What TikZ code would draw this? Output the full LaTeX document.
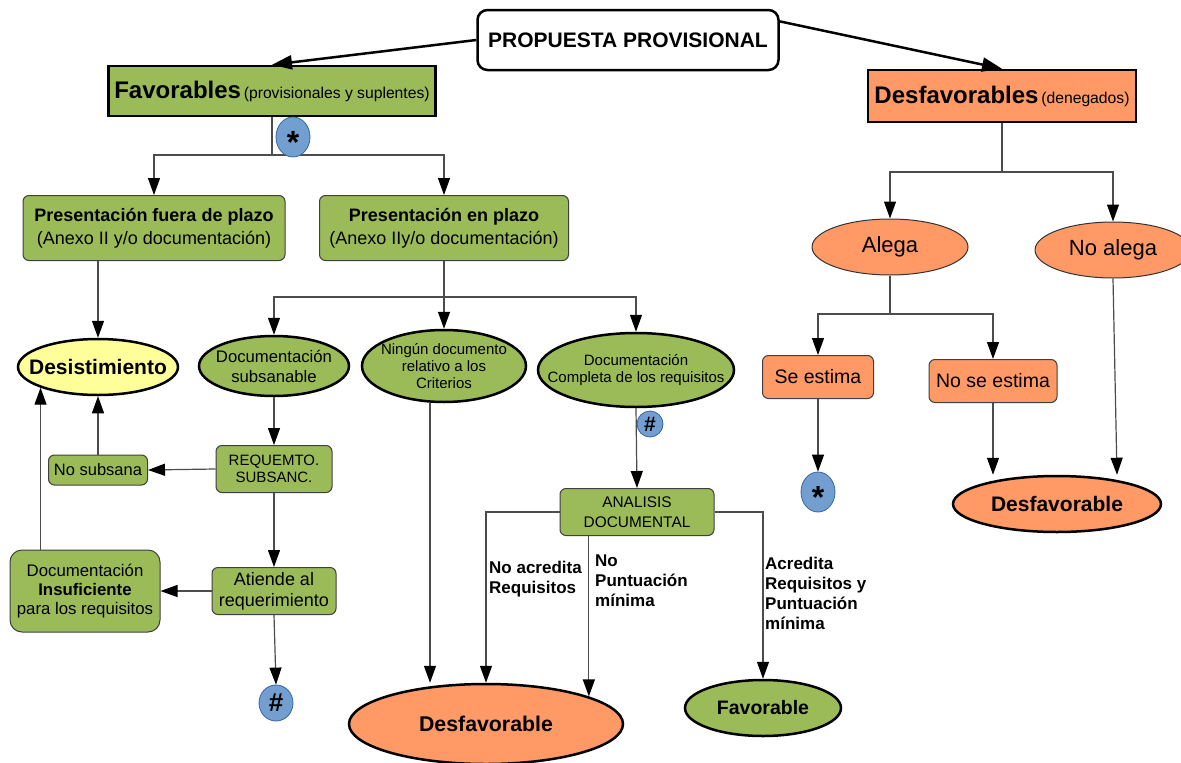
\documentclass[tikz,border=0pt]{standalone}
\usepackage{fontspec}
\setmainfont{Liberation Sans}
\usetikzlibrary{arrows.meta,shapes.geometric}

\definecolor{verde}{RGB}{155,187,89}
\definecolor{naranja}{RGB}{255,153,102}
\definecolor{azul}{RGB}{114,159,207}
\definecolor{azulborde}{RGB}{52,101,164}
\definecolor{amarillo}{RGB}{255,255,153}
\newcommand{\tam}[2]{\fontsize{#1}{#2}\selectfont}

\begin{document}
\begin{tikzpicture}[x=1pt,y=-1pt,>={Triangle[length=17pt,width=12pt,color=black]},
    caja/.style={rectangle,rounded corners=6pt,draw=black!75,line width=1pt,fill=verde,align=center,inner sep=0pt},
    titulo/.style={rectangle,draw=black,line width=2.5pt,align=center,inner sep=0pt},
    elipse/.style={ellipse,draw=black,line width=2.5pt,fill=verde,inner sep=0pt},
    marca/.style={ellipse,draw=azulborde,line width=0.8pt,fill=azul,inner sep=0pt},
    linea/.style={draw=black!70,line width=1.2pt},
    gruesa/.style={->,draw=black,line width=2.5pt,>={Triangle[length=20pt,width=14pt]}},
    etiqueta/.style={font=\tam{17}{20}\bfseries,align=left,anchor=north west,inner sep=0pt}]
    \clip (0,0) rectangle (1181,763);
    \fill[white] (0,0) rectangle (1181,763);

    % top level
    \node[titulo,rounded corners=10pt,fill=white,minimum width=301pt,minimum height=60pt,font=\tam{21}{25}\bfseries]
        (prop) at (628,40) {PROPUESTA PROVISIONAL};
    \node[titulo,fill=verde,minimum width=327pt,minimum height=50pt] (fav) at (272,91)
        {{\tam{24}{28}\bfseries Favorables} {\tam{15.7}{18}(provisionales y suplentes)}};
    \node[titulo,fill=naranja,minimum width=268pt,minimum height=52pt] (desf) at (1002,96)
        {{\tam{24}{28}\bfseries Desfavorables} {\tam{15.7}{18}(denegados)}};

    % favorables branch
    \node[caja,minimum width=262pt,minimum height=65pt,font=\tam{18}{23}] (fuera) at (154,228)
        {\textbf{Presentación fuera de plazo}\\(Anexo II y/o documentación)};
    \node[caja,minimum width=249pt,minimum height=65pt,font=\tam{18}{23}] (plazo) at (444,228)
        {\textbf{Presentación en plazo}\\(Anexo IIy/o documentación)};
    \node[elipse,fill=amarillo,minimum width=160pt,minimum height=56pt,
        label={[font=\tam{21}{25}\bfseries]center:Desistimiento}] (desist) at (98,367) {};
    \node[elipse,minimum width=150pt,minimum height=60pt,
        label={[font=\tam{16.7}{20},align=center]center:Documentación\\subsanable}] (subsan) at (274,366) {};
    \node[elipse,minimum width=164pt,minimum height=72pt,
        label={[font=\tam{15}{17},align=center]center:Ningún documento\\relativo a los\\Criterios}] (ningun) at (444,366) {};
    \node[elipse,minimum width=196pt,minimum height=74pt,
        label={[font=\tam{15}{17},align=center]center:Documentación\\Completa de los requisitos}] (completa) at (636,370) {};
    \node[caja,minimum width=116pt,minimum height=47pt,font=\tam{15}{17}] (req) at (274,469)
        {REQUEMTO.\\SUBSANC.};
    \node[caja,minimum width=99pt,minimum height=30pt,font=\tam{16.5}{19}] (nosub) at (98,470) {No subsana};
    \node[caja,minimum width=124pt,minimum height=47pt,font=\tam{18}{21}] (atiende) at (274,591)
        {Atiende al\\requerimiento};
    \node[caja,rounded corners=12pt,minimum width=150pt,minimum height=82pt,font=\tam{16.8}{19}] (insuf) at (85,591)
        {Documentación\\\textbf{Insuficiente}\\para los requisitos};
    \node[caja,minimum width=154pt,minimum height=47pt,font=\tam{15.4}{20}] (analisis) at (637,512)
        {ANALISIS\\DOCUMENTAL};
    \node[elipse,fill=naranja,minimum width=274pt,minimum height=80pt,
        label={[font=\tam{21.3}{25}\bfseries]center:Desfavorable}] (desfab) at (486,724) {};
    \node[elipse,minimum width=156pt,minimum height=56pt,
        label={[font=\tam{19.5}{23}\bfseries]center:Favorable}] (favor) at (763,708) {};

    % desfavorables branch
    \node[elipse,fill=naranja,draw=black!80,line width=1pt,minimum width=156pt,minimum height=56pt,
        label={[font=\tam{22}{25}]center:Alega}] (alega) at (890,247) {};
    \node[elipse,fill=naranja,draw=black!80,line width=1pt,minimum width=156pt,minimum height=56pt,
        label={[font=\tam{22}{25}]center:No alega}] (noalega) at (1113,250) {};
    \node[caja,fill=naranja,minimum width=111pt,minimum height=43pt,font=\tam{19.5}{22}] (seest) at (818,377) {Se estima};
    \node[caja,fill=naranja,minimum width=128pt,minimum height=43pt,font=\tam{19.5}{22}] (noest) at (993,381) {No se estima};
    \node[elipse,fill=naranja,minimum width=208pt,minimum height=56pt,
        label={[font=\tam{21}{25}\bfseries]center:Desfavorable}] (desfder) at (1057,504) {};

    % fork points
    \coordinate (c1) at (272,155);
    \coordinate (c2) at (444,297);
    \coordinate (c3) at (1002,172);
    \coordinate (c4) at (890,314);

    % connectors
    \draw[gruesa] (prop.west) -- (fav.north);
    \draw[gruesa] (prop.7) -- (desf.north);

    \draw[linea] (fav.south) -- (c1);
    \draw[linea,->] (c1) -| (fuera.north);
    \draw[linea,->] (c1) -| (plazo.north);
    \draw[linea,->] (fuera.south -| desist.north) -- (desist.north);

    \draw[linea] (plazo.south) -- (c2);
    \draw[linea,->] (c2) -| (subsan.north);
    \draw[linea,->] (c2) -- (ningun.north);
    \draw[linea,->] (c2) -| (completa.north);

    \draw[linea,->] (subsan.south) -- (req.north);
    \draw[linea,->] (req.west) -- (nosub.east);
    \draw[linea,->] (nosub.north) -- (desist.south);
    \draw[linea,->] (req.south) -- (atiende.north);
    \draw[linea,->] (atiende.west) -- (insuf.east);
    \draw[linea,->] (insuf.north -| desist.south west) -- (desist.south west);

    \draw[linea,->] ([xshift=-14pt]ningun.south) -- ([xshift=-14pt]ningun.south |- desfab.north);
    \draw[linea,->] (completa.south) -- (analisis.north);
    \draw[linea,->] (analisis.west) -| (desfab.north);
    \draw[linea,->] (analisis.south -| desfab.15) -- (desfab.15);
    \draw[linea,->] (analisis.east) -| (favor.north);

    \draw[linea] (desf.south) -- (c3);
    \draw[linea,->] (c3) -| (alega.north);
    \draw[linea,->] (c3) -| (noalega.north);
    \draw[linea] (alega.south) -- (c4);
    \draw[linea,->] (c4) -| (seest.north);
    \draw[linea,->] (c4) -| (noest.north);
    \draw[linea,->] (noest.south) -- (noest.south |- desfder.north);
    \draw[linea,->] (noalega.south) -- ([xshift=4pt]noalega.south |- desfder.north);

    % markers
    \node[marca,minimum width=34pt,minimum height=40pt] (star1) at (293,137) {};
    \node[font=\tam{32}{32}\bfseries] at ([yshift=-5pt]star1.center) {*};
    \node[marca,minimum width=26pt,minimum height=26pt,font=\tam{21}{21}\bfseries] (hash2) at (650,424) {\#};
    \node[marca,minimum width=34pt,minimum height=36pt,font=\tam{26}{26}\bfseries] (hash1) at (276,703) {\#};
    \draw[linea,->] (atiende.south) -- (hash1.north);
    \node[marca,minimum width=34pt,minimum height=40pt] (star2) at (818,492) {};
    \node[font=\tam{32}{32}\bfseries] at ([yshift=-5pt]star2.center) {*};
    \draw[linea,->] (seest.south) -- (star2.north);

    % edge labels
    \node[etiqueta] (lab1) at (489,561) {No acredita\\Requisitos};
    \node[etiqueta] (lab2) at (595,555) {No\\Puntuación\\mínima};
    \node[etiqueta] (lab3) at (765,557) {Acredita\\Requisitos y\\Puntuación\\mínima};
\end{tikzpicture}
\end{document}
